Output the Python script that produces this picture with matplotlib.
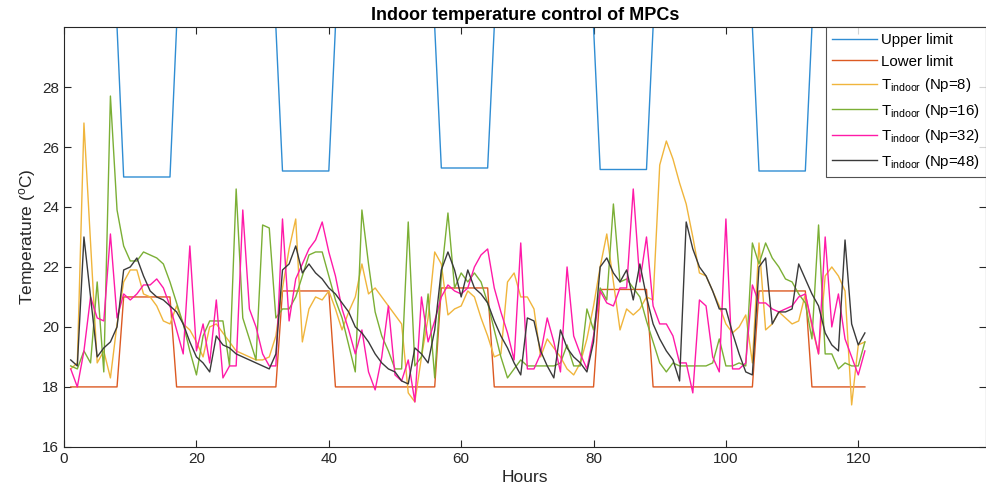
import matplotlib
matplotlib.use("Agg")
import matplotlib.pyplot as plt
import numpy as np

plt.rcParams['font.family'] = ['Liberation Sans', 'DejaVu Sans']
plt.rcParams['mathtext.fontset'] = 'custom'
plt.rcParams['mathtext.rm'] = 'Liberation Sans'
plt.rcParams['mathtext.it'] = 'Liberation Sans:italic'

# hours 1..121
hours = np.arange(1, 122)

# comfort band, as runs of constant value (length in hours, value)
seg_len = [8, 8, 16, 8, 16, 8, 16, 8, 16, 8, 9]
upper_seg = [30, 25.0, 30, 25.2, 30, 25.3, 30, 25.25, 30, 25.2, 30]
lower_seg = [18, 21.0, 18, 21.2, 18, 21.3, 18, 21.25, 18, 21.2, 18]

t_np8 = [18.6, 18.8, 26.8, 22.8, 18.8, 19.2, 18.3, 20.1, 21.5, 21.9,
         21.9, 21.1, 21.0, 20.7, 20.2, 20.1, 20.7, 20.1, 19.9, 19.5,
         19.0, 20.0, 20.1, 19.8, 19.5, 19.2, 19.1, 19.0, 18.9, 18.9,
         19.0, 19.7, 21.3, 22.6, 23.6, 19.5, 20.6, 21.0, 20.9, 21.2,
         20.6, 19.9, 20.5, 21.0, 22.1, 21.1, 21.3, 21.0, 20.7, 20.4,
         20.1, 17.8, 17.5, 19.0, 20.3, 22.5, 22.1, 20.4, 20.6, 20.7,
         21.2, 21.0, 20.3, 19.7, 19.0, 19.1, 21.5, 21.8, 21.0, 21.0,
         20.6, 19.0, 19.6, 19.3, 19.0, 18.6, 18.4, 18.8, 19.6, 20.7,
         22.0, 23.1, 21.5, 19.9, 20.6, 20.4, 20.6, 21.0, 20.9, 25.4,
         26.2, 25.6, 24.8, 24.1, 23.0, 21.8, 21.7, 21.2, 20.7, 20.1,
         19.8, 20.0, 20.4, 18.8, 22.8, 19.9, 20.1, 20.5, 20.3, 20.1,
         20.2, 21.1, 20.0, 19.1, 21.7, 22.0, 21.7, 21.2, 17.4, 19.4,
         19.5]

t_np16 = [18.7, 18.6, 19.2, 18.8, 21.5, 18.5, 27.7, 23.9, 22.7, 22.2,
          22.2, 22.5, 22.4, 22.3, 22.1, 21.5, 20.8, 20.1, 19.2, 18.4,
          19.7, 20.2, 20.2, 20.2, 18.7, 24.6, 20.3, 19.6, 18.9, 23.4,
          23.3, 20.3, 20.6, 20.6, 21.0, 21.7, 22.4, 22.5, 22.5, 21.7,
          20.9, 20.3, 19.4, 18.5, 23.9, 22.1, 20.5, 19.7, 19.2, 18.6,
          18.6, 23.5, 18.7, 19.0, 21.1, 18.3, 21.7, 23.8, 21.3, 21.8,
          21.5, 21.8, 21.5, 20.8, 19.9, 19.0, 18.3, 18.6, 18.9, 18.7,
          18.7, 18.7, 18.7, 18.7, 18.8, 19.4, 18.7, 18.7, 20.6, 19.9,
          21.3, 20.9, 24.1, 21.5, 21.6, 21.3, 21.0, 20.2, 19.5, 18.8,
          18.5, 18.8, 18.7, 18.7, 18.7, 18.7, 18.7, 18.8, 19.6, 18.7,
          18.7, 18.8, 18.7, 22.8, 22.1, 22.8, 22.3, 22.0, 21.6, 21.5,
          21.1, 20.8, 19.6, 23.4, 19.1, 19.1, 18.6, 18.8, 18.7, 18.7,
          19.5]

t_np32 = [18.6, 18.0, 19.2, 21.0, 20.3, 20.2, 23.1, 20.3, 21.1, 20.9,
          21.1, 21.4, 21.4, 21.6, 21.3, 20.7, 19.9, 19.1, 22.7, 19.2,
          20.1, 18.8, 20.9, 18.3, 18.7, 18.7, 23.9, 20.6, 20.0, 19.1,
          18.7, 18.7, 23.6, 20.2, 21.6, 22.1, 22.6, 22.9, 23.5, 22.5,
          21.7, 20.6, 19.9, 19.1, 19.9, 18.5, 17.9, 19.0, 20.7, 18.4,
          18.2, 18.9, 17.5, 21.0, 19.5, 20.2, 21.0, 21.4, 21.2, 21.1,
          21.3, 22.0, 22.4, 22.6, 21.3, 20.5, 19.8, 18.9, 22.8, 18.6,
          18.6, 19.1, 20.3, 19.5, 18.5, 22.0, 19.7, 19.1, 18.6, 19.7,
          21.2, 20.8, 20.7, 21.3, 21.3, 24.6, 21.5, 23.0, 20.7, 20.1,
          20.1, 19.7, 18.8, 18.8, 17.8, 20.9, 20.7, 19.0, 18.5, 23.6,
          18.6, 18.6, 18.8, 21.4, 20.8, 20.8, 20.6, 20.5, 20.6, 20.7,
          21.0, 21.1, 20.1, 19.1, 23.0, 20.0, 21.1, 19.6, 19.0, 18.4,
          19.2]

t_np48 = [18.9, 18.7, 23.0, 21.0, 19.0, 19.3, 19.5, 20.0, 21.9, 22.0,
          22.3, 21.7, 21.2, 21.0, 20.9, 20.7, 20.5, 20.1, 19.5, 19.0,
          18.8, 18.5, 19.7, 19.4, 19.3, 19.1, 19.0, 18.9, 18.8, 18.7,
          18.6, 19.1, 21.9, 22.1, 22.7, 21.8, 22.1, 21.8, 21.6, 21.3,
          21.1, 20.8, 20.5, 20.0, 19.8, 19.5, 19.1, 18.8, 18.6, 18.5,
          18.2, 18.1, 19.3, 19.1, 18.8, 19.9, 21.9, 22.5, 21.9, 21.0,
          21.9, 21.3, 21.1, 20.8, 20.2, 19.7, 19.3, 18.8, 18.4, 20.3,
          20.2, 19.2, 18.7, 18.3, 19.9, 19.3, 19.0, 18.8, 18.5, 19.5,
          22.0, 22.3, 21.8, 21.5, 21.9, 20.9, 22.1, 21.0, 20.1, 19.6,
          19.2, 18.9, 18.2, 23.5, 22.6, 22.0, 21.7, 21.2, 20.6, 20.6,
          19.8, 19.1, 18.5, 18.4, 22.0, 22.3, 20.1, 20.5, 20.5, 20.6,
          22.1, 21.6, 21.1, 20.7, 19.8, 19.4, 19.2, 22.9, 20.1, 19.4,
          19.8]

upper = np.repeat(upper_seg, seg_len)
lower = np.repeat(lower_seg, seg_len)

fig = plt.figure(figsize=(9.86, 5.01), dpi=100)
ax = fig.add_axes([0.065, 0.108, 0.935, 0.838])

ax.plot(hours, upper, color='#2F8DD3', lw=1.0, label='Upper limit')
ax.plot(hours, lower, color='#DC5A22', lw=1.0, label='Lower limit')
ax.plot(hours, t_np8, color='#F0B53C', lw=1.0, label=r'T$_{\mathrm{indoor}}$ (Np=8)')
ax.plot(hours, t_np16, color='#7BAF35', lw=1.0, label=r'T$_{\mathrm{indoor}}$ (Np=16)')
ax.plot(hours, t_np32, color='#FF1AA8', lw=1.0, label=r'T$_{\mathrm{indoor}}$ (Np=32)')
ax.plot(hours, t_np48, color='#3a3a3a', lw=1.0, label=r'T$_{\mathrm{indoor}}$ (Np=48)')

ax.set_xlim(0, 139.3)
ax.set_ylim(16, 30)
ax.set_xticks(range(0, 121, 20))
ax.set_yticks(range(16, 29, 2))
ax.tick_params(direction='in', top=True, right=True, labelsize=11,
               colors='#262626', length=5)
for s in ax.spines.values():
    s.set_color('#262626')
    s.set_linewidth(0.8)

ax.set_xlabel('Hours', fontsize=12.5, color='#262626', labelpad=3)
ax.set_ylabel(r'Temperature ($^{\mathrm{o}}$C)', fontsize=12.5, color='#262626', labelpad=3)
ax.set_title('Indoor temperature control of MPCs', fontsize=13, fontweight='bold', pad=5)

leg = ax.legend(loc='upper left', bbox_to_anchor=(0.826, 1.0), fontsize=10.8,
                frameon=True, fancybox=False, edgecolor='#262626',
                handlelength=3.0, handletextpad=0.3, labelspacing=0.5,
                borderaxespad=0.0, borderpad=0.4)
leg.get_frame().set_linewidth(0.8)

fig.savefig('out.png', dpi=100)
